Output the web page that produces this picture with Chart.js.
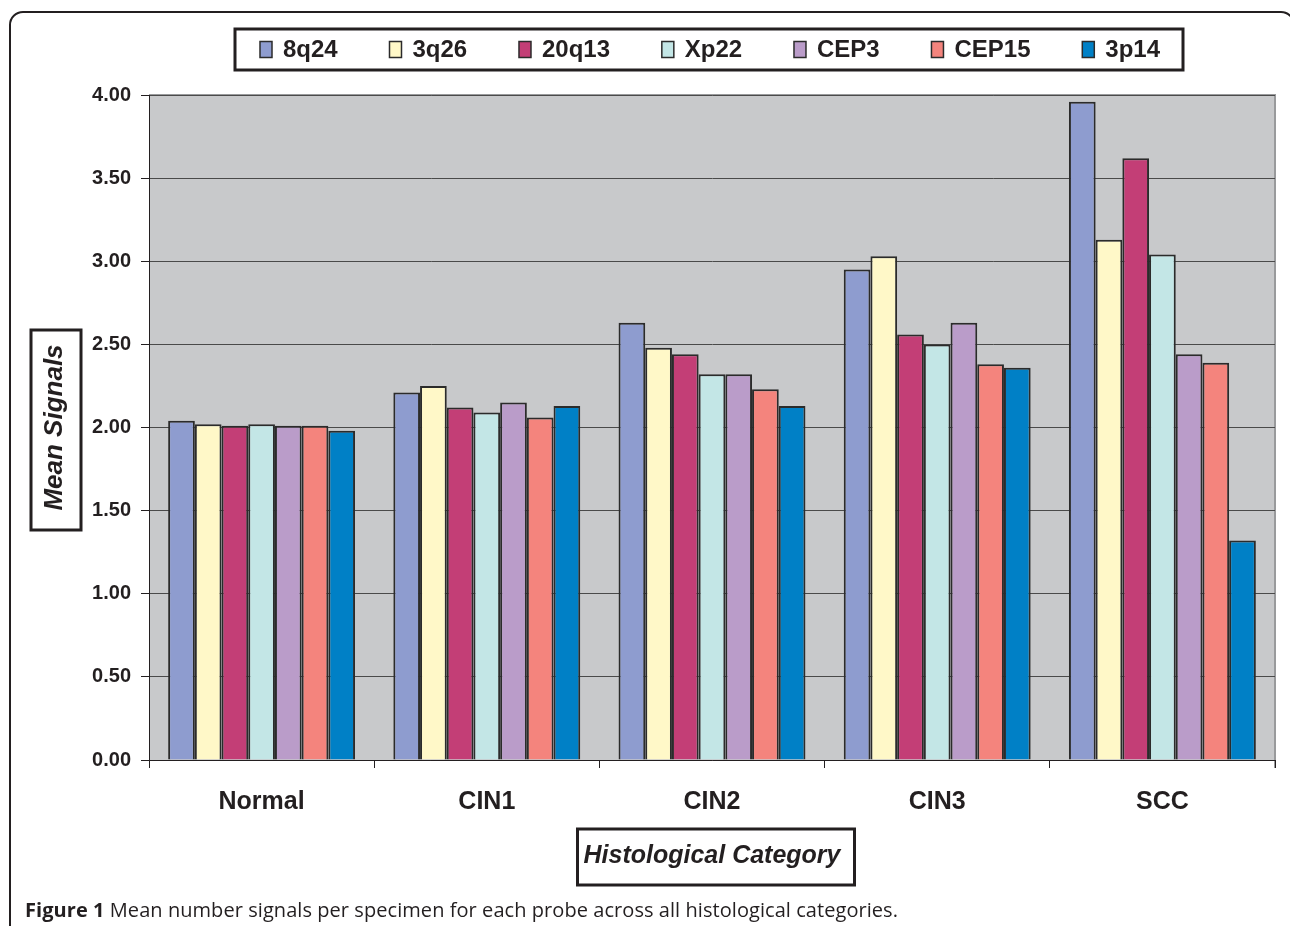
<!DOCTYPE html>
<html>
<head>
<meta charset="utf-8">
<script src="https://cdn.jsdelivr.net/npm/chart.js@4"></script>
<style>
  html, body { margin: 0; padding: 0; background: #fff; }
  #wrap { position: relative; width: 1290px; height: 926px; overflow: hidden; }
  #frame { position: absolute; left: 9px; top: 11px; width: 1286px; height: 1000px;
           border: 2px solid #231f20; border-radius: 14px; box-sizing: border-box; }
  #chart { position: absolute; left: 0; top: 0; }
  #caption { position: absolute; left: 25px; top: 896px; font-family: "Open Sans", "Noto Sans", sans-serif;
             font-size: 20px; color: #231f20; white-space: nowrap; letter-spacing: 0.06px; }
  #caption b { font-weight: 700; }
</style>
</head>
<body>
<div id="wrap">
  <div id="frame"></div>
  <canvas id="chart" width="1290" height="926"></canvas>
  <div id="caption"><b>Figure 1</b> Mean number signals per specimen for each probe across all histological categories.</div>
</div>
<script>
const categories = ["Normal", "CIN1", "CIN2", "CIN3", "SCC"];
const probes = ["8q24", "3q26", "20q13", "Xp22", "CEP3", "CEP15", "3p14"];
const s8q24  = [2.04, 2.21, 2.63, 2.95, 3.96];
const s3q26  = [2.02, 2.25, 2.48, 3.03, 3.13];
const s20q13 = [2.01, 2.12, 2.44, 2.56, 3.62];
const sXp22  = [2.02, 2.09, 2.32, 2.50, 3.04];
const sCEP3  = [2.01, 2.15, 2.32, 2.63, 2.44];
const sCEP15 = [2.01, 2.06, 2.23, 2.38, 2.39];
const s3p14  = [1.98, 2.13, 2.13, 2.36, 1.32];
const yTicks = [0, 0.5, 1, 1.5, 2, 2.5, 3, 3.5, 4];
const yTitle = "Mean Signals";
const xTitle = "Histological Category";

const seriesValues = [s8q24, s3q26, s20q13, sXp22, sCEP3, sCEP15, s3p14];
const colors = ["#8E9CCF", "#FFF8C8", "#C33E76", "#C3E6E6", "#BA9CC9", "#F4847D", "#0080C6"];
const ink = "#231f20";

const datasets = probes.map((p, i) => ({
  label: p,
  data: seriesValues[i],
  backgroundColor: colors[i],
  borderColor: "#2b2b2b",
  borderWidth: 2,
  borderSkipped: "bottom",
  categoryPercentage: 0.83,
  barPercentage: 1.0
}));

const plotBg = {
  id: "plotBg",
  beforeDraw(chart) {
    const { ctx, chartArea: a } = chart;
    ctx.save();
    ctx.fillStyle = "#C8C9CB";
    ctx.fillRect(a.left, a.top, a.right - a.left, a.bottom - a.top);
    ctx.strokeStyle = "#999a9c";
    ctx.lineWidth = 2;
    ctx.beginPath();
    ctx.moveTo(a.left, a.top);
    ctx.lineTo(a.right, a.top);
    ctx.lineTo(a.right, a.bottom + 8);
    ctx.stroke();
    ctx.restore();
  }
};

const decor = {
  id: "decor",
  afterDraw(chart) {
    const { ctx, chartArea: a } = chart;
    ctx.save();
    const font = "bold 24px 'Liberation Sans', Arial, sans-serif";
    ctx.font = font;
    const sq = 12, sqH = 16, gapT = 11;
    const widths = chart.data.datasets.map(d => ctx.measureText(d.label).width);
    const start = 260, end = 1160;
    const used = widths.reduce((s, w) => s + sq + gapT + w, 0);
    const gap = (end - start - used) / (widths.length - 1);
    const boxL = 235, boxR = 1183, boxT = 29, boxB = 70;
    ctx.fillStyle = "#fff";
    ctx.fillRect(boxL, boxT, boxR - boxL, boxB - boxT);
    ctx.lineWidth = 3;
    ctx.strokeStyle = ink;
    ctx.strokeRect(boxL, boxT, boxR - boxL, boxB - boxT);
    const cy = (boxT + boxB) / 2;
    let x = start;
    chart.data.datasets.forEach((d, i) => {
      ctx.fillStyle = d.backgroundColor;
      ctx.fillRect(x, cy - sqH / 2, sq, sqH);
      ctx.lineWidth = 1.5;
      ctx.strokeStyle = "#2b2b2b";
      ctx.strokeRect(x, cy - sqH / 2, sq, sqH);
      ctx.fillStyle = ink;
      ctx.textBaseline = "middle";
      ctx.textAlign = "left";
      ctx.fillText(d.label, x + sq + gapT, cy + 1);
      x += sq + gapT + widths[i] + gap;
    });
    ctx.lineWidth = 3;
    ctx.strokeStyle = ink;
    ctx.strokeRect(31, 330, 50, 200);
    ctx.font = "italic bold 25px 'Liberation Sans', Arial, sans-serif";
    const xw = ctx.measureText(xTitle).width;
    const xc = (a.left + a.right) / 2 + 4;
    ctx.strokeRect(xc - xw / 2 - 10, 829, xw + 20, 56);
    ctx.restore();
  }
};

new Chart(document.getElementById("chart"), {
  type: "bar",
  data: { labels: categories, datasets },
  options: {
    responsive: false,
    devicePixelRatio: 1,
    animation: false,
    layout: { padding: { top: 95, right: 15, left: 0, bottom: 40 } },
    plugins: { legend: { display: false }, tooltip: { enabled: false } },
    scales: {
      x: {
        offset: true,
        grid: { offset: true, drawOnChartArea: false, drawTicks: true, tickLength: 8, color: ink, lineWidth: 1 },
        border: { display: true, color: ink, width: 1 },
        ticks: { padding: 19, color: ink, font: { family: "'Liberation Sans', Arial, sans-serif", size: 25, weight: "bold" } },
        title: { display: true, text: xTitle, color: ink, padding: { top: 0, bottom: 15 },
                 font: { family: "'Liberation Sans', Arial, sans-serif", size: 25, weight: "bold", style: "italic" } },
        afterFit(scale) { scale.height = 126; }
      },
      y: {
        min: 0, max: 4,
        afterBuildTicks(scale) { scale.ticks = yTicks.map(v => ({ value: v })); },
        grid: { drawOnChartArea: true, drawTicks: true, tickLength: 8, color: "#4a4a4a", tickColor: ink, lineWidth: 1 },
        border: { display: true, color: ink, width: 1 },
        ticks: { padding: 10, color: ink, callback: v => Number(v).toFixed(2),
                 font: { family: "'Liberation Sans', Arial, sans-serif", size: 20, weight: "bold" } },
        title: { display: true, text: yTitle, color: ink, padding: { top: 39, bottom: 0 },
                 font: { family: "'Liberation Sans', Arial, sans-serif", size: 26, weight: "bold", style: "italic" } },
        afterFit(scale) { scale.width = 149; }
      }
    }
  },
  plugins: [plotBg, decor]
});
</script>
</body>
</html>
